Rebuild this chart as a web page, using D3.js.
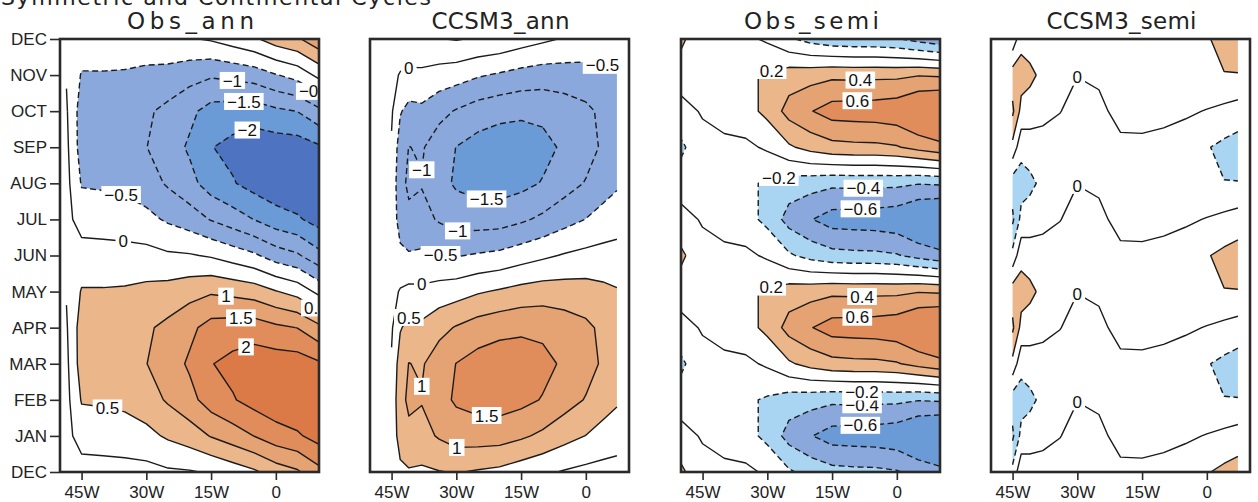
<!DOCTYPE html>
<html>
<head>
<meta charset="utf-8">
<script src="https://cdn.jsdelivr.net/npm/d3@7"></script>
<style>
  body { margin: 0; background: #fff; }
  svg { display: block; }
</style>
</head>
<body>
<div id="chart"></div>
<script>
// ---- data -------------------------------------------------------------
// rows run from the bottom DEC (month 0) up to the top DEC (month 12)
const months = ["DEC", "JAN", "FEB", "MAR", "APR", "MAY", "JUN", "JUL", "AUG", "SEP", "OCT", "NOV", "DEC"];
const lonTicks = [-45, -30, -15, 0];
const lonTickLabels = ["45W", "30W", "15W", "0"];
const panelTitles = ["Obs_ann", "CCSM3_ann", "Obs_semi", "CCSM3_semi"];
const headerText = "Symmetric and Continental Cycles";

const annLevels = [-2, -1.5, -1, -0.5, 0, 0.5, 1, 1.5, 2];
const semiLevels = [-0.6, -0.4, -0.2, 0, 0.2, 0.4, 0.6];

// longitudes of the grid columns (degrees east)
const obsAnnLons = [-48.5, -45, -40, -35, -30, -25, -20, -15, -10, -5, 0, 5, 10];
const ccsmLons = [-45, -43, -41, -38, -34, -30, -25, -20, -15, -10, -5, 0, 4, 7.2];
const obsSemiLons = [-50, -45, -40, -35, -30, -25, -20, -15, -10, -5, 0, 5, 10];

const obsAnn = [
  [-0.10, -0.20, -0.18, -0.17, -0.16, -0.07, -0.04, 0.05, 0.23, 0.42, 0.74, 0.93, 1.35],
  [-0.14, 0.20, 0.22, 0.26, 0.36, 0.57, 0.75, 1.03, 1.26, 1.51, 1.78, 1.93, 2.20],
  [-0.15, 0.54, 0.57, 0.62, 0.78, 1.06, 1.34, 1.74, 1.96, 2.19, 2.34, 2.42, 2.47],
  [-0.11, 0.74, 0.76, 0.81, 0.99, 1.26, 1.57, 1.98, 2.14, 2.28, 2.27, 2.25, 2.07],
  [-0.05, 0.74, 0.75, 0.79, 0.93, 1.12, 1.38, 1.69, 1.74, 1.76, 1.60, 1.49, 1.12],
  [0.03, 0.54, 0.54, 0.56, 0.63, 0.69, 0.82, 0.94, 0.87, 0.77, 0.53, 0.32, -0.13],
  [0.10, 0.20, 0.18, 0.17, 0.16, 0.07, 0.04, -0.05, -0.23, -0.42, -0.74, -0.93, -1.35],
  [0.14, -0.20, -0.22, -0.26, -0.36, -0.57, -0.75, -1.03, -1.26, -1.51, -1.78, -1.93, -2.20],
  [0.15, -0.54, -0.57, -0.62, -0.78, -1.06, -1.34, -1.74, -1.96, -2.19, -2.34, -2.42, -2.47],
  [0.11, -0.74, -0.76, -0.81, -0.99, -1.26, -1.57, -1.98, -2.14, -2.28, -2.27, -2.25, -2.07],
  [0.05, -0.74, -0.75, -0.79, -0.93, -1.12, -1.38, -1.69, -1.74, -1.76, -1.60, -1.49, -1.12],
  [-0.03, -0.54, -0.54, -0.56, -0.63, -0.69, -0.82, -0.94, -0.87, -0.77, -0.53, -0.32, 0.13],
  [-0.10, -0.20, -0.18, -0.17, -0.16, -0.07, -0.04, 0.05, 0.23, 0.42, 0.74, 0.93, 1.35]
];

const ccsmAnn = [
  [0.19, 0.39, 0.45, 0.42, 0.48, 0.53, 0.45, 0.38, 0.23, 0.09, -0.04, -0.13, -0.17, -0.18],
  [0.19, 0.71, 0.89, 0.84, 1.05, 1.22, 1.24, 1.22, 1.08, 0.90, 0.68, 0.49, 0.32, 0.22],
  [0.14, 0.85, 1.09, 1.03, 1.33, 1.57, 1.69, 1.73, 1.64, 1.47, 1.21, 0.97, 0.72, 0.57],
  [0.05, 0.76, 1.01, 0.95, 1.26, 1.51, 1.69, 1.78, 1.76, 1.65, 1.42, 1.19, 0.93, 0.77],
  [-0.06, 0.46, 0.65, 0.61, 0.85, 1.04, 1.24, 1.35, 1.41, 1.38, 1.25, 1.10, 0.90, 0.76],
  [-0.15, 0.04, 0.12, 0.11, 0.21, 0.29, 0.45, 0.56, 0.68, 0.75, 0.74, 0.71, 0.62, 0.54],
  [-0.19, -0.39, -0.45, -0.42, -0.48, -0.53, -0.45, -0.38, -0.23, -0.09, 0.04, 0.13, 0.17, 0.18],
  [-0.19, -0.71, -0.89, -0.84, -1.05, -1.22, -1.24, -1.22, -1.08, -0.90, -0.68, -0.49, -0.32, -0.22],
  [-0.14, -0.85, -1.09, -1.03, -1.33, -1.57, -1.69, -1.73, -1.64, -1.47, -1.21, -0.97, -0.72, -0.57],
  [-0.05, -0.76, -1.01, -0.95, -1.26, -1.51, -1.69, -1.78, -1.76, -1.65, -1.42, -1.19, -0.93, -0.77],
  [0.06, -0.46, -0.65, -0.61, -0.85, -1.04, -1.24, -1.35, -1.41, -1.38, -1.25, -1.10, -0.90, -0.76],
  [0.15, -0.04, -0.12, -0.11, -0.21, -0.29, -0.45, -0.56, -0.68, -0.75, -0.74, -0.71, -0.62, -0.54],
  [0.19, 0.39, 0.45, 0.42, 0.48, 0.53, 0.45, 0.38, 0.23, 0.09, -0.04, -0.13, -0.17, -0.18]
];

const obsSemi = [
  [0.23, 0.097, 0.053, 0.041, -0.029, -0.172, -0.268, -0.333, -0.35, -0.355, -0.383, -0.469, -0.541],
  [0.10, -0.027, -0.086, -0.123, -0.256, -0.474, -0.589, -0.690, -0.70, -0.71, -0.740, -0.859, -0.915],
  [-0.13, -0.124, -0.139, -0.163, -0.227, -0.302, -0.322, -0.357, -0.35, -0.355, -0.357, -0.390, -0.374],
  [-0.23, -0.097, -0.053, -0.041, 0.029, 0.172, 0.268, 0.333, 0.35, 0.355, 0.383, 0.469, 0.541],
  [-0.10, 0.027, 0.086, 0.123, 0.256, 0.474, 0.589, 0.690, 0.70, 0.71, 0.740, 0.859, 0.915],
  [0.13, 0.124, 0.139, 0.163, 0.227, 0.302, 0.322, 0.357, 0.35, 0.355, 0.357, 0.390, 0.374],
  [0.23, 0.097, 0.053, 0.041, -0.029, -0.172, -0.268, -0.333, -0.35, -0.355, -0.383, -0.469, -0.541],
  [0.10, -0.027, -0.086, -0.123, -0.256, -0.474, -0.589, -0.690, -0.70, -0.71, -0.740, -0.859, -0.915],
  [-0.13, -0.124, -0.139, -0.163, -0.227, -0.302, -0.322, -0.357, -0.35, -0.355, -0.357, -0.390, -0.374],
  [-0.23, -0.097, -0.053, -0.041, 0.029, 0.172, 0.268, 0.333, 0.35, 0.355, 0.383, 0.469, 0.541],
  [-0.10, 0.027, 0.086, 0.123, 0.256, 0.474, 0.589, 0.690, 0.70, 0.71, 0.740, 0.859, 0.915],
  [0.13, 0.124, 0.139, 0.163, 0.227, 0.302, 0.322, 0.357, 0.35, 0.355, 0.357, 0.390, 0.374],
  [0.23, 0.097, 0.053, 0.041, -0.029, -0.172, -0.268, -0.333, -0.35, -0.355, -0.383, -0.469, -0.541]
];

const ccsmSemi = [
  [-0.14, 0.14, 0.12, 0.094, 0.067, 0.053, 0.060, 0.033, 0.038, 0.070, 0.126, 0.187, 0.246, 0.284],
  [-0.44, -0.14, -0.12, -0.065, -0.004, 0.050, 0.035, -0.047, -0.061, -0.060, -0.035, 0.011, 0.051, 0.090],
  [-0.30, -0.28, -0.24, -0.159, -0.071, -0.003, -0.024, -0.080, -0.099, -0.130, -0.162, -0.176, -0.195, -0.194],
  [0.14, -0.14, -0.12, -0.094, -0.067, -0.053, -0.060, -0.033, -0.038, -0.070, -0.126, -0.187, -0.246, -0.284],
  [0.44, 0.14, 0.12, 0.065, 0.004, -0.050, -0.035, 0.047, 0.061, 0.060, 0.035, -0.011, -0.051, -0.090],
  [0.30, 0.28, 0.24, 0.159, 0.071, 0.003, 0.024, 0.080, 0.099, 0.130, 0.162, 0.176, 0.195, 0.194],
  [-0.14, 0.14, 0.12, 0.094, 0.067, 0.053, 0.060, 0.033, 0.038, 0.070, 0.126, 0.187, 0.246, 0.284],
  [-0.44, -0.14, -0.12, -0.065, -0.004, 0.050, 0.035, -0.047, -0.061, -0.060, -0.035, 0.011, 0.051, 0.090],
  [-0.30, -0.28, -0.24, -0.159, -0.071, -0.003, -0.024, -0.080, -0.099, -0.130, -0.162, -0.176, -0.195, -0.194],
  [0.14, -0.14, -0.12, -0.094, -0.067, -0.053, -0.060, -0.033, -0.038, -0.070, -0.126, -0.187, -0.246, -0.284],
  [0.44, 0.14, 0.12, 0.065, 0.004, -0.050, -0.035, 0.047, 0.061, 0.060, 0.035, -0.011, -0.051, -0.090],
  [0.30, 0.28, 0.24, 0.159, 0.071, 0.003, 0.024, 0.080, 0.099, 0.130, 0.162, 0.176, 0.195, 0.194],
  [-0.14, 0.14, 0.12, 0.094, 0.067, 0.053, 0.060, 0.033, 0.038, 0.070, 0.126, 0.187, 0.246, 0.284]
];

// contour labels: [level, lon, month]
const obsAnnLabels = [[-1, -10.0, 10.92], [-1.5, -7.4, 10.31], [-2, -7.0, 9.62], [-0.5, 8.9, 10.48],
  [-0.5, -35.6, 7.82], [0, -35.3, 6.46], [1, -11.6, 4.82], [1.5, -8.1, 4.27], [2, -7.4, 3.66],
  [0.5, 9.0, 4.49], [0.5, -39.1, 1.72]];
const ccsmAnnLabels = [[0, -41.2, 11.34], [-0.5, 4.2, 11.47], [-1, -37.3, 8.29], [-1.5, -23.0, 7.54],
  [-1, -29.7, 6.71], [-0.5, -33.8, 5.93], [0, -37.8, 5.04], [0.5, -41.5, 4.41], [1, -37.3, 2.36],
  [1.5, -23.0, 1.5], [1, -29.9, 0.67]];
const obsSemiLabels = [[0.2, -28.9, 11.06], [0.4, -8.5, 11.06], [0.6, -9.2, 10.45], [-0.2, -27.1, 8.01],
  [-0.4, -7.8, 8.01], [-0.6, -8.5, 7.46], [0.2, -28.9, 4.99], [0.4, -8.1, 5.04], [0.6, -9.2, 4.43],
  [-0.4, -8.1, 2.08], [-0.2, -8.1, 2.41], [-0.6, -8.5, 1.44]];
const ccsmSemiLabels = [[0, -30, 11.2], [0, -30, 8.18], [0, -30, 5.18], [0, -30, 2.13]];

// ---- layout & colours -------------------------------------------------
const W = 1258, H = 502;
const plotTop = 39, plotBottom = 472, panelW = 259;
const panelLeft = [60, 370, 681, 991];
const titleWidth = [127, 138, 135, 150];
const orange = ["#ebb68a", "#e5a272", "#e18d5b", "#dc7a47"];
const blue = ["#a9d5f2", "#8aa8dc", "#6a9bd6", "#4e73c1"];
const annColor = l => ({"0.5": orange[0], "1": orange[1], "1.5": orange[2], "2": orange[3],
  "-0.5": blue[1], "-1": blue[1], "-1.5": blue[2], "-2": blue[3]})[String(l)];
const semiColor = l => ({"0.2": orange[0], "0.4": orange[1], "0.6": orange[2],
  "-0.2": blue[0], "-0.4": blue[1], "-0.6": blue[2]})[String(l)];

const panels = [
  {lons: obsAnnLons, grid: obsAnn, levels: annLevels, color: annColor, labels: obsAnnLabels},
  {lons: ccsmLons, grid: ccsmAnn, levels: annLevels, color: annColor, labels: ccsmAnnLabels},
  {lons: obsSemiLons, grid: obsSemi, levels: semiLevels, color: semiColor, labels: obsSemiLabels},
  {lons: ccsmLons, grid: ccsmSemi, levels: semiLevels, color: semiColor, labels: ccsmSemiLabels}
];

const fontMain = "'Liberation Sans', Arial, Helvetica, sans-serif";
const fontTitle = "'DejaVu Sans', Verdana, sans-serif";
const fmt = l => (l < 0 ? "\u2212" : "") + String(Math.abs(l));

const svg = d3.select("#chart").append("svg")
  .attr("width", W).attr("height", H)
  .style("font-family", fontMain);

const yScale = d3.scaleLinear().domain([0, 12]).range([plotBottom, plotTop]);

// header line, mostly cut off at the top edge
svg.append("text")
  .attr("x", 1).attr("y", 5)
  .attr("font-family", fontTitle).attr("font-size", 22)
  .attr("letter-spacing", 1.6)
  .attr("fill", "#222")
  .text(headerText);

panels.forEach((p, i) => {
  const x0 = panelLeft[i];
  const xScale = d3.scaleLinear().domain([-50, 10]).range([x0, x0 + panelW]);
  const nx = p.lons.length, ny = p.grid.length;
  const idxToLon = d3.scaleLinear().domain(d3.range(nx)).range(p.lons);
  const values = p.grid.flat();
  const negValues = values.map(v => -v);
  const contours = d3.contours().size([nx, ny]);

  // grid coords from d3.contours -> pixels (value i sits at i + 0.5)
  const toPx = ([gx, gy]) => [
    xScale(idxToLon(Math.max(0, Math.min(nx - 1, gx - 0.5)))),
    yScale(Math.max(0, Math.min(ny - 1, gy - 0.5)))
  ];
  const isEdge = ([gx, gy]) => gx <= 0 || gx >= nx || gy <= 0 || gy >= ny;
  const areaPath = mp => mp.coordinates.map(poly => poly.map(ring =>
    "M" + ring.map(toPx).map(q => q[0].toFixed(2) + "," + q[1].toFixed(2)).join("L") + "Z").join("")).join("");

  svg.append("clipPath").attr("id", "clip" + i)
    .append("rect").attr("x", x0).attr("y", plotTop).attr("width", panelW).attr("height", plotBottom - plotTop);

  const g = svg.append("g").attr("clip-path", `url(#clip${i})`);

  // shaded bands
  p.levels.filter(l => l > 0).forEach(l => {
    g.append("path").attr("d", areaPath(contours.contour(values, l)))
      .attr("fill", p.color(l)).attr("fill-rule", "evenodd");
  });
  p.levels.filter(l => l < 0).sort((a, b) => b - a).forEach(l => {
    g.append("path").attr("d", areaPath(contours.contour(negValues, -l)))
      .attr("fill", p.color(l)).attr("fill-rule", "evenodd");
  });

  // isolines (without the pieces that run along the data edge)
  const lineStore = {};
  p.levels.forEach(l => {
    const segs = [];
    contours.contour(values, l).coordinates.forEach(poly => poly.forEach(ring => {
      let cur = [];
      for (let k = 0; k < ring.length - 1; k++) {
        const a = ring[k], b = ring[k + 1];
        if (isEdge(a) || isEdge(b)) {
          if (cur.length > 1) segs.push(cur);
          cur = [];
          continue;
        }
        if (!cur.length) cur.push(toPx(a));
        cur.push(toPx(b));
      }
      if (cur.length > 1) segs.push(cur);
    }));
    lineStore[l] = segs;
    g.selectAll(null).data(segs).join("path")
      .attr("d", d3.line())
      .attr("fill", "none")
      .attr("stroke", "#1b1b1b")
      .attr("stroke-width", 1.4)
      .attr("stroke-linejoin", "round")
      .attr("stroke-dasharray", l < 0 ? "6,3.5" : null);
  });

  // contour labels, snapped onto their line
  p.labels.forEach(([l, lon, t]) => {
    const px = xScale(lon), py = yScale(t);
    let best = 14 * 14, bx = px, by = py;
    (lineStore[l] || []).forEach(seg => {
      for (let k = 0; k < seg.length - 1; k++) {
        const [ax, ay] = seg[k], [cx, cy] = seg[k + 1];
        const dx = cx - ax, dy = cy - ay, len = dx * dx + dy * dy;
        let u = len ? ((px - ax) * dx + (py - ay) * dy) / len : 0;
        u = Math.max(0, Math.min(1, u));
        const qx = ax + u * dx, qy = ay + u * dy;
        const d2 = (qx - px) ** 2 + (qy - py) ** 2;
        if (d2 < best) { best = d2; bx = qx; by = qy; }
      }
    });
    const lg = g.append("g").attr("transform", `translate(${bx},${by})`);
    const txt = lg.append("text")
      .attr("text-anchor", "middle").attr("dy", "0.36em")
      .attr("font-size", 17).attr("fill", "#111")
      .text(fmt(l));
    const w = txt.node().getComputedTextLength();
    lg.insert("rect", "text")
      .attr("x", -w / 2 - 3).attr("y", -8.5)
      .attr("width", w + 6).attr("height", 17)
      .attr("fill", "#fff");
  });

  // frame
  svg.append("rect")
    .attr("x", x0).attr("y", plotTop)
    .attr("width", panelW).attr("height", plotBottom - plotTop)
    .attr("fill", "none").attr("stroke", "#2a2a2a").attr("stroke-width", 2.6);

  // x axis
  const xAxis = svg.append("g")
    .attr("transform", `translate(0,${plotBottom + 1})`)
    .call(d3.axisBottom(xScale).tickValues(lonTicks)
      .tickFormat((d, k) => lonTickLabels[k]).tickSize(7).tickPadding(6));
  xAxis.select(".domain").remove();
  xAxis.selectAll("line").attr("stroke", "#2a2a2a").attr("stroke-width", 1.6);
  xAxis.selectAll("text").attr("font-size", 17).attr("font-family", fontMain).attr("fill", "#222");

  // title
  svg.append("text")
    .attr("x", x0 + panelW / 2 + 1).attr("y", 29)
    .attr("text-anchor", "middle")
    .attr("font-family", fontTitle).attr("font-size", 23)
    .attr("textLength", titleWidth[i]).attr("lengthAdjust", "spacing")
    .attr("fill", "#222")
    .text(panelTitles[i]);

  // month axis only on the first panel
  if (i === 0) {
    const yAxis = svg.append("g")
      .attr("transform", `translate(${x0 - 1},0)`)
      .call(d3.axisLeft(yScale).tickValues(d3.range(13))
        .tickFormat(k => months[k]).tickSize(9).tickPadding(3));
    yAxis.select(".domain").remove();
    yAxis.selectAll("line").attr("stroke", "#2a2a2a").attr("stroke-width", 1.6);
    yAxis.selectAll("text").attr("font-size", 17).attr("font-family", fontMain).attr("fill", "#222");
  }
});
</script>
</body>
</html>
